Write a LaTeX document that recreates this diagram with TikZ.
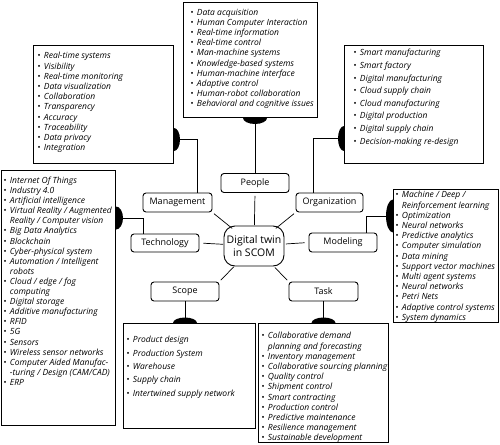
\documentclass[tikz,border=0pt]{standalone}
\usepackage{fontspec}
\setmainfont{Open Sans}
\usetikzlibrary{calc}
\newcommand\bul{\makebox[6.5pt][l]{\textbullet}}
\newcommand\cnt{\hspace*{6.5pt}}
\begin{document}
\begin{tikzpicture}[x=1pt,y=-1pt,line width=0.9pt,
  lbox/.style={draw,line width=1pt,anchor=north west,inner sep=0pt},
  ltext/.style={anchor=north west,inner sep=0pt,align=left,font=\fontsize{8.5}{10.2}\selectfont\itshape},
  cat/.style={draw,rounded corners=3pt,minimum width=68pt,minimum height=19pt,inner sep=0pt,font=\fontsize{9}{10}\selectfont},
  spoke/.style={line width=0.7pt}]
\useasboundingbox (0,0) rectangle (500,444);

% list boxes
\node[lbox,minimum width=134pt,minimum height=115pt] (peopleL) at (183,2) {};
\node[lbox,minimum width=140pt,minimum height=118pt] (mgmtL) at (33,45) {};
\node[lbox,minimum width=139pt,minimum height=118pt] (orgL) at (344,45) {};
\node[lbox,minimum width=114pt,minimum height=255pt] (techL) at (1,170) {};
\node[lbox,minimum width=105pt,minimum height=133pt] (modL) at (393,189) {};
\node[lbox,minimum width=132pt,minimum height=105pt] (scopeL) at (123,323) {};
\node[lbox,minimum width=130pt,minimum height=119pt] (taskL) at (258,323) {};

% list texts
\node[ltext] (peopleT) at (190,8.5) {\bul Data acquisition\\\bul Human Computer Interaction\\\bul Real-time information\\\bul Real-time control\\\bul Man-machine systems\\\bul Knowledge-based systems\\\bul Human-machine interface\\\bul Adaptive control\\\bul Human-robot collaboration\\\bul Behavioral and cognitive issues};
\node[ltext] (mgmtT) at (37,52) {\bul Real-time systems\\\bul Visibility\\\bul Real-time monitoring\\\bul Data visualization\\\bul Collaboration\\\bul Transparency\\\bul Accuracy\\\bul Traceability\\\bul Data privacy\\\bul Integration};
\node[ltext,font=\fontsize{8.5}{12.6}\selectfont\itshape] (orgT) at (353,49) {\bul Smart manufacturing\\\bul Smart factory\\\bul Digital manufacturing\\\bul Cloud supply chain\\\bul Cloud manufacturing\\\bul Digital production\\\bul Digital supply chain\\\bul Decision-making re-design};
\node[ltext,font=\fontsize{8.5}{10.1}\selectfont\itshape] (techT) at (3,176.5) {\bul Internet Of Things\\\bul Industry 4.0\\\bul Artificial intelligence\\\bul Virtual Reality / Augmented\\\cnt Reality / Computer vision\\\bul Big Data Analytics\\\bul Blockchain\\\bul Cyber-physical system\\\bul Automation / Intelligent\\\cnt robots\\\bul Cloud / edge / fog\\\cnt computing\\\bul Digital storage\\\bul Additive manufacturing\\\bul RFID\\\bul 5G\\\bul Sensors\\\bul Wireless sensor networks\\\bul Computer Aided Manufac-\\\cnt -turing / Design (CAM/CAD)\\\bul ERP};
\node[ltext] (modT) at (395,191) {\bul Machine / Deep /\\\cnt Reinforcement learning\\\bul Optimization\\\bul Neural networks\\\bul Predictive analytics\\\bul Computer simulation\\\bul Data mining\\\bul Support vector machines\\\bul Multi agent systems\\\bul Neural networks\\\bul Petri Nets\\\bul Adaptive control systems\\\bul System dynamics};
\node[ltext,font=\fontsize{8.5}{13.3}\selectfont\itshape] (scopeT) at (126,336) {\bul Product design\\\bul Production System\\\bul Warehouse\\\bul Supply chain\\\bul Intertwined supply network};
\node[ltext] (taskT) at (261,332) {\bul Collaborative demand\\\cnt planning and forecasting\\\bul Inventory management\\\bul Collaborative sourcing planning\\\bul Quality control\\\bul Shipment control\\\bul Smart contracting\\\bul Production control\\\bul Predictive maintenance\\\bul Resilience management\\\bul Sustainable development};

% category nodes
\node[draw,rounded corners=11pt,minimum width=60pt,minimum height=40pt,inner sep=0pt,align=center,font=\fontsize{10.5}{12.5}\selectfont] (c) at (254,246) {Digital twin\\in SCOM};
\node[cat] (people) at (255,183) {People};
\node[cat,minimum width=69pt] (mgmt) at (177.5,202.5) {Management};
\node[cat,minimum width=67pt] (org) at (329.5,202.5) {Organization};
\node[cat,minimum height=18pt] (tech) at (165,243) {Technology};
\node[cat] (model) at (343,242.5) {Modeling};
\node[cat] (scope) at (185,291.5) {Scope};
\node[cat,minimum width=69pt] (task) at (323.5,291.5) {Task};

% spokes
\draw[spoke,shorten <=21pt,shorten >=3pt] (c.center) -- (people.south);
\draw[spoke,shorten <=28pt,shorten >=2pt] (c.center) -- (mgmt.south east);
\draw[spoke,shorten <=28pt,shorten >=2pt] (c.center) -- (org.south west);
\draw[spoke,shorten <=31pt,shorten >=4pt] (c.center) -- (tech.east);
\draw[spoke,shorten <=32pt,shorten >=4pt] (c.center) -- (model.west);
\draw[spoke,shorten <=29pt,shorten >=2pt] (c.center) -- (scope.north east);
\draw[spoke,shorten <=30pt,shorten >=2pt] (c.center) -- (task.north west);

% connectors with blobs
\coordinate (pb) at (peopleL.south -| people.north);
\fill (pb) ++(-12,0) arc[start angle=180,end angle=0,x radius=12,y radius=6] -- cycle;
\draw (pb) -- (people.north);

\coordinate (mb) at ($(mgmtL.east)+(0,35)$);
\fill (mb) ++(0,-11.5) arc[start angle=-90,end angle=90,x radius=6,y radius=11.5] -- cycle;
\draw (mb) -| ($(mgmt.north)+(19.5,0)$);

\coordinate (ob) at ($(orgL.west)+(0,34)$);
\fill (ob) ++(0,-12.5) arc[start angle=-90,end angle=-270,x radius=6,y radius=12.5] -- cycle;
\draw (ob) -| ($(org.north)+(-16.5,0)$);

\coordinate (tb) at ($(techL.north east)+(0,48)$);
\fill (tb) ++(0,-11.5) arc[start angle=-90,end angle=90,x radius=7,y radius=11.5] -- cycle;
\draw (tb) -| ($(tech.north)+(-22,0)$);

\coordinate (mdb) at ($(modL.north west)+(0,27)$);
\fill (mdb) ++(0,-16.5) arc[start angle=-90,end angle=-270,x radius=7,y radius=16.5] -- cycle;
\draw (mdb) -| ($(model.north)+(23,0)$);

\coordinate (sb) at (scopeL.north -| scope.south);
\fill (sb) ++(-12,0) arc[start angle=180,end angle=360,x radius=12,y radius=5.5] -- cycle;
\draw (scope.south) -- (sb);

\coordinate (kb) at (taskL.north -| task.south);
\fill (kb) ++(-12,0) arc[start angle=180,end angle=360,x radius=12,y radius=5.5] -- cycle;
\draw (task.south) -- (kb);
\end{tikzpicture}
\end{document}
